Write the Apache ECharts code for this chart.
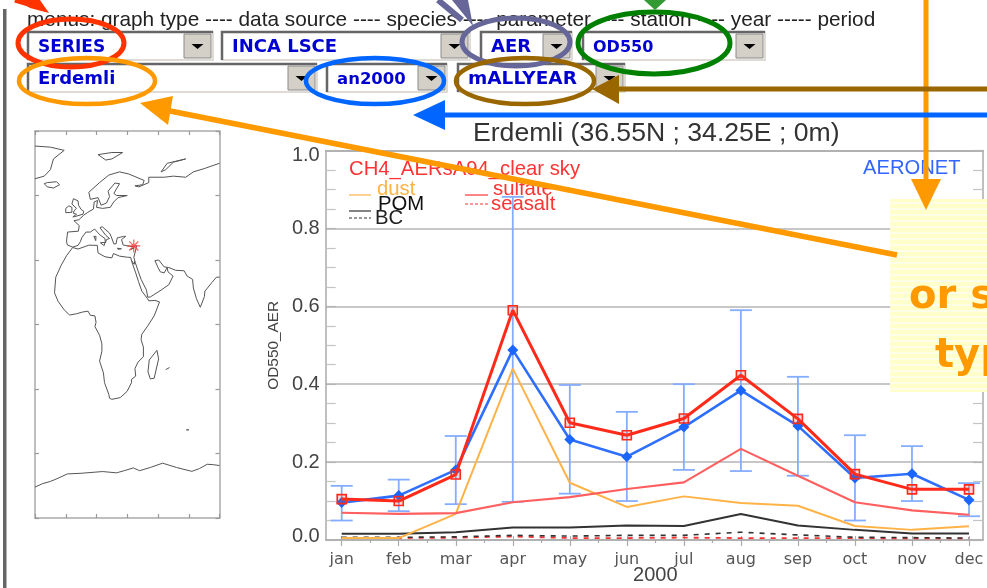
<!DOCTYPE html>
<html>
<head>
<meta charset="utf-8">
<title>Erdemli OD550</title>
<style>
  html, body { margin: 0; padding: 0; background: #fff; }
  #main { width: 987px; height: 588px; filter: blur(0.45px); }
</style>
<script src="https://cdn.jsdelivr.net/npm/echarts@6/dist/echarts.min.js"></script>
</head>
<body>
<div id="main"></div>
<script>
// monthly values
var months = ['jan', 'feb', 'mar', 'apr', 'may', 'jun', 'jul', 'aug', 'sep', 'oct', 'nov', 'dec']
var yTicks = ['0.0', '0.2', '0.4', '0.6', '0.8', '1.0']

var model = [0.105, 0.100, 0.168, 0.590, 0.301, 0.269, 0.312, 0.423, 0.311, 0.169, 0.130, 0.130]
var aeronet = [0.096, 0.114, 0.180, 0.488, 0.258, 0.214, 0.290, 0.384, 0.293, 0.159, 0.170, 0.103]
var errLow = [0.050, 0.074, 0.092, 0.098, 0.119, 0.100, 0.180, 0.177, 0.165, 0.050, 0.100, 0.061]
var errHigh = [0.139, 0.155, 0.267, 0.881, 0.398, 0.329, 0.400, 0.590, 0.419, 0.269, 0.241, 0.146]
var sulfate = [0.070, 0.067, 0.069, 0.097, 0.110, 0.131, 0.148, 0.234, 0.165, 0.097, 0.076, 0.065]
var dust = [0.005, 0.005, 0.067, 0.440, 0.147, 0.085, 0.112, 0.095, 0.088, 0.036, 0.026, 0.035]
var pom = [0.016, 0.016, 0.020, 0.032, 0.032, 0.037, 0.036, 0.067, 0.037, 0.026, 0.017, 0.017]
var bc = [0.007, 0.007, 0.008, 0.012, 0.010, 0.012, 0.012, 0.020, 0.013, 0.007, 0.006, 0.005]
var seasalt = [0.005, 0.005, 0.006, 0.009, 0.005, 0.005, 0.006, 0.005, 0.005, 0.005, 0.004, 0.004]

// coastlines, [lon, lat]
var africa = [[-5.5,35.8],[-9.5,32],[-13,27.5],[-16.5,22],[-17.3,14.7],[-15,10.8],[-11,6.8],[-7.5,4.4],[-3,5],[1,5.8],[4.5,6.2],[6,4.3],[9,4],[9.7,1],[9,-1],[12,-5],[13.5,-9],[13.5,-12.5],[12,-17],[14.5,-22.5],[15.2,-27],[18,-32.5],[18.5,-34.3],[20,-34.8],[25.5,-34],[30,-31],[32.8,-27],[32.8,-25.5],[35.5,-24],[35,-20.5],[37,-17.5],[40.5,-15],[40.5,-10.5],[39,-7],[39.5,-4.5],[43,-1],[47.5,4],[51,10.5],[48,11.2],[44,11],[43.2,12],[39.5,15.5],[37.3,20],[35.5,24],[33.8,27.5],[32.6,30],[32.3,31.2],[30,31.3],[25,31.8],[21,33],[20,31],[15.5,31.5],[11,33.3],[10.5,36.8],[5,36.9],[-2,35.1],[-5.5,35.8]]
var eurasia = [[32.6,30],[34.5,28],[34.9,29.5],[34.3,31.3],[35.8,35.5],[36,36.8],[34.25,36.2],[30.5,36.5],[27.3,37],[26.3,39.5],[29,41],[27.5,41],[26,40.7],[23.5,40.3],[22.7,37.5],[21.3,37.5],[19.5,41],[18.5,42.5],[13.7,45.5],[12.3,45],[16,41.5],[18.5,40],[16.5,39.5],[15.8,38],[15.5,40],[12.5,41.5],[10.5,43],[8.8,44.4],[6,43],[3.2,43],[0.5,40.5],[-0.5,38.5],[-2,36.8],[-5.5,36],[-9,37],[-9.5,38.8],[-8.8,43],[-1.8,43.4],[-1.2,46],[-4.7,48.3],[-1.5,48.7],[1.6,50.8],[4,52],[8,53.7],[8.5,57],[10.7,57.7],[10,54.5],[14,54],[19,54.5],[21.2,57],[24,59],[30,60],[23,60],[21.3,61],[25,65.5],[22,65.8],[17.5,62],[18.5,59.5],[16.5,56.5],[13,55.5],[11,59],[6,58.2],[5,61.5],[12,66],[18,69.5],[25,71],[31,70],[41,67],[40,65],[35,64.5],[37.5,64],[44,66],[44,68.5],[54,68.5],[60,69],[68,68.5],[73,71],[80,72.5],[90,75]]
var arabiaIndia = [[34.9,29.5],[37,25],[39,21],[42.5,16],[43.3,12.7],[45,12.8],[52,16],[57,18.5],[59.8,22.5],[56.5,24.5],[56,26.5],[54,24],[51.5,24.5],[50,26.5],[48,29.7],[50.5,30],[54,26.8],[57,26.5],[61.5,25.2],[67,25],[69,22.5],[72.5,21],[73,17],[75,12],[77.5,8],[80.2,13],[80.5,15.5],[85,19.5],[88,22],[90,22]]
var greenland = [[-30,83],[-20,82.5],[-11,81],[-18,77],[-20,72],[-24,69],[-30,67.8]]
var iceland = [[-24,65.5],[-22,64],[-18,63.5],[-14,65],[-16,66.4],[-22,66],[-24,65.5]]
var britain = [[-5,50],[1.2,51.3],[1.7,52.7],[0,53.5],[-1.7,55.5],[-2,57.5],[-5,58.5],[-6,56],[-3,54],[-4.7,52.8],[-5,51.7],[-3,51.3],[-5.5,50]]
var ireland = [[-6,52.2],[-6,54.5],[-8,55.2],[-10,54],[-10,52],[-6,52.2]]
var svalbard = [[11,79],[20,80],[27,80],[20,77],[16,76.5],[11,79]]
var novayaZemlya = [[52,71],[56,75],[68,77],[60,75.5],[55,72],[52,71]]
var sardinia = [[8.3,41],[9.7,41],[9.5,39],[8.5,39],[8.3,41]]
var sicily = [[12.5,38],[15.5,38.2],[15,36.7],[12.5,38]]
var crete = [[23.6,35.5],[26.2,35.2],[24,35],[23.6,35.5]]
var cyprus = [[32.3,35],[34.5,35.6],[33.5,34.7],[32.3,35]]
var madagascar = [[49.3,-12],[50.4,-16],[47.5,-25],[45,-25.3],[43.5,-22],[44.3,-16.5],[49.3,-12]]
var reunion = [[55,-21],[57.5,-20]]
var kerguelen = [[68.5,-49],[70,-49],[69.5,-48.5],[68.5,-49]]
var antarctica = [[-30,-75.6],[-25,-74],[-20,-73],[-15,-71.5],[-9,-69.5],[0,-69.2],[14,-68.4],[23,-69],[28,-68],[34,-66.7],[38,-68],[45,-66.5],[53,-64.5],[62,-66.5],[72,-68.3],[77,-67],[82,-65],[86,-65.2],[90,-65.6]]
var station = [[34.25, 36.55]]
var coasts = [africa, eurasia, arabiaIndia, greenland, iceland, britain, ireland, svalbard, novayaZemlya, sardinia, sicily, crete, cyprus, madagascar, reunion, kerguelen, antarctica]

var plotBox = { left: 325.7, top: 150.5, width: 657.3, height: 389.5 }
var dataBox = { left: 341.7, top: 150.5, width: 627.3, height: 389.5 }
var mapBox = { left: 35, top: 131, width: 184.5, height: 387 }

var gridGray = '#b4b4b4'
var frameGray = '#aaaaaa'
var inkGray = '#444444'
var orange = '#ff9900'
var blueArrow = '#0066ff'
var brown = '#996600'

// drop down menus of the web page shown above the plot
var menus = [
  { label: 'SERIES', x: 28, y: 32, w: 185, size: 17 },
  { label: 'INCA LSCE', x: 222, y: 32, w: 248, size: 18 },
  { label: 'AER', x: 481, y: 32, w: 91, size: 18 },
  { label: 'OD550', x: 583, y: 32, w: 182, size: 16 },
  { label: 'Erdemli', x: 28, y: 64, w: 289, size: 18 },
  { label: 'an2000', x: 327, y: 64, w: 120, size: 16.5 },
  { label: 'mALLYEAR', x: 458, y: 64, w: 167, size: 18.5 }
]
var rings = [
  { cx: 71, cy: 43, rx: 53, ry: 24, color: '#ff3300', w: 5 },
  { cx: 87, cy: 81, rx: 68, ry: 23, color: orange, w: 4.5 },
  { cx: 375, cy: 81, rx: 69, ry: 23, color: blueArrow, w: 4.5 },
  { cx: 516, cy: 42, rx: 54, ry: 24, color: '#666699', w: 5 },
  { cx: 654, cy: 43, rx: 76, ry: 31, color: '#008000', w: 5 },
  { cx: 525, cy: 81, rx: 69, ry: 23, color: brown, w: 4.5 }
]

function label(text, x, y, color, font) {
  return { type: 'text', z: 50, style: { text: text, x: x, y: y, fill: color, font: font, textVerticalAlign: 'middle' } }
}
function seg(x1, y1, x2, y2, color, w, dash, z) {
  return { type: 'line', z: z || 50, shape: { x1: x1, y1: y1, x2: x2, y2: y2 }, style: { stroke: color, lineWidth: w, lineDash: dash || null } }
}
function tri(points, color) {
  return { type: 'polygon', z: 85, shape: { points: points }, style: { fill: color } }
}

var graphics = []

// left edge of the page
graphics.push({ type: 'rect', z: 50, shape: { x: 3, y: 9, width: 3.5, height: 579 }, style: { fill: '#666666' } })

graphics.push(label('menus: graph type ---- data source ---- species ---- parameter ---- station ---- year ----- period', 27, 20.5, '#222222', '20.8px "Liberation Sans"'))

menus.forEach(function (m) {
  var h = 28
  graphics.push({ type: 'rect', z: 50, shape: { x: m.x, y: m.y, width: m.w, height: h }, style: { fill: '#fff', stroke: '#d4d0c8', lineWidth: 1.5 } })
  graphics.push({ type: 'polyline', z: 51, shape: { points: [[m.x, m.y + h], [m.x, m.y], [m.x + m.w, m.y]] }, style: { fill: null, stroke: '#666666', lineWidth: 2.5 } })
  graphics.push({ type: 'rect', z: 51, shape: { x: m.x + m.w - 29, y: m.y + 2, width: 27, height: h - 4 }, style: { fill: '#d4d0c8', stroke: '#8a8a8a', lineWidth: 1 } })
  var cx = m.x + m.w - 15.5, cy = m.y + 12
  graphics.push({ type: 'polygon', z: 52, shape: { points: [[cx - 6, cy], [cx + 6, cy], [cx, cy + 5]] }, style: { fill: '#000' } })
  graphics.push(label(m.label, m.x + 10, m.y + 15.5, '#0000d0', 'bold ' + m.size + 'px "DejaVu Sans"'))
})

graphics.push(label('Erdemli (36.55N ; 34.25E ; 0m)', 473, 134, '#333333', '26.6px "Liberation Sans"'))

// text and key inside the plot
graphics.push(label('CH4_AERsA94_clear sky', 349, 169, '#ff3333', '20.3px "Liberation Sans"'))
graphics.push(label('AERONET', 863, 168, '#3366ff', '20.2px "Liberation Sans"'))
graphics.push(label('dust', 377, 189, '#ffb347', '20.3px "Liberation Sans"'))
graphics.push(label('sulfate', 493, 189, '#ff3333', '20.3px "Liberation Sans"'))
graphics.push(label('POM', 378, 204, '#111111', '20.3px "Liberation Sans"'))
graphics.push(label('seasalt', 491, 204.5, '#ff3333', '20.3px "Liberation Sans"'))
graphics.push(label('BC', 375, 218.5, '#222222', '20.3px "Liberation Sans"'))
graphics.push(seg(349, 195, 371, 195, '#ffb347', 1.2))
graphics.push(seg(465, 195, 488, 195, '#ff3333', 1.2))
graphics.push(seg(349, 211, 371, 211, '#333333', 1.2))
graphics.push(seg(349, 218, 371, 218, '#333333', 1.2, [3, 2]))
graphics.push(seg(465, 204, 488, 204, '#ff3333', 1.2, [3, 2]))

// yellow note, cut by the edge of the picture
graphics.push({ type: 'rect', z: 70, shape: { x: 890, y: 199, width: 97, height: 193 }, style: { fill: '#ffffcc' } })
for (var sy = 202; sy < 392; sy += 6) {
  graphics.push({ type: 'rect', z: 71, shape: { x: 890, y: sy, width: 97, height: 2 }, style: { fill: '#ffffe8' } })
}
graphics.push({ type: 'text', z: 72, style: { text: 'or s', x: 909, y: 298, fill: orange, font: 'bold 40px "DejaVu Sans"', textVerticalAlign: 'middle' } })
graphics.push({ type: 'text', z: 72, style: { text: 'typ', x: 935, y: 357, fill: orange, font: 'bold 40px "DejaVu Sans"', textVerticalAlign: 'middle' } })

rings.forEach(function (r) {
  graphics.push({ type: 'ellipse', z: 80, shape: { cx: r.cx, cy: r.cy, rx: r.rx, ry: r.ry }, style: { fill: null, stroke: r.color, lineWidth: r.w } })
})

// call-out arrows
graphics.push(seg(926, 0, 926, 182, orange, 5, null, 85))
graphics.push(tri([[911, 179], [941, 179], [926, 210]], orange))
graphics.push(seg(987, 89, 615, 89, brown, 5, null, 85))
graphics.push(tri([[592, 89], [619, 75], [619, 104]], brown))
graphics.push(seg(987, 115, 440, 115, blueArrow, 5, null, 85))
graphics.push(tri([[413, 115], [445, 100], [445, 130]], blueArrow))
graphics.push(seg(897, 255, 160, 109, orange, 5.5, null, 85))
graphics.push(tri([[140, 103], [173, 96], [168, 125]], orange))
graphics.push(seg(15, 0, 32, 5, '#ff3300', 5, null, 85))
graphics.push(tri([[17, 0], [40, 0], [49, 13], [30, 8]], '#ff3300'))
graphics.push(seg(438, 0, 462, 20, '#666699', 6, null, 85))
graphics.push(tri([[473, 26], [452, 0], [468, 0]], '#666699'))
graphics.push(tri([[644, 0], [666, 0], [655, 10]], '#339933'))

var frameLine = { show: true, onZero: false, lineStyle: { color: frameGray, width: 1.5 } }
var mapTick = { show: true, inside: true, length: 4, lineStyle: { color: '#999999', width: 1.2 } }
var plotTick = { show: true, inside: true, length: 10, lineStyle: { color: gridGray, width: 1.2 } }
var plotMinor = { show: true, splitNumber: 4, length: 10, lineStyle: { color: '#c4c4c4', width: 1.2 } }

var seriesList = [
  {
    name: 'AERONET range',
    type: 'custom',
    xAxisIndex: 2,
    yAxisIndex: 2,
    z: 2,
    clip: false,
    data: months.map(function (m, i) { return [i, errLow[i], errHigh[i]] }),
    encode: { x: 0, y: [1, 2] },
    renderItem: function (params, api) {
      var i = api.value(0)
      var lo = api.coord([i, api.value(1)])
      var hi = api.coord([i, api.value(2)])
      var cap = 11
      var st = { stroke: '#85adff', lineWidth: 1.8, fill: null }
      return {
        type: 'group',
        children: [
          { type: 'line', shape: { x1: lo[0], y1: lo[1], x2: hi[0], y2: hi[1] }, style: st },
          { type: 'line', shape: { x1: lo[0] - cap, y1: lo[1], x2: lo[0] + cap, y2: lo[1] }, style: st },
          { type: 'line', shape: { x1: hi[0] - cap, y1: hi[1], x2: hi[0] + cap, y2: hi[1] }, style: st }
        ]
      }
    }
  },
  { name: 'seasalt', type: 'line', xAxisIndex: 2, yAxisIndex: 2, z: 3, data: seasalt, symbol: 'none', lineStyle: { color: '#ff3333', width: 1.8, type: [5, 6] } },
  { name: 'BC', type: 'line', xAxisIndex: 2, yAxisIndex: 2, z: 3, data: bc, symbol: 'none', lineStyle: { color: '#333333', width: 1.6, type: [5, 6] } },
  { name: 'POM', type: 'line', xAxisIndex: 2, yAxisIndex: 2, z: 3, data: pom, symbol: 'none', lineStyle: { color: '#333333', width: 2 } },
  { name: 'dust', type: 'line', xAxisIndex: 2, yAxisIndex: 2, z: 3, data: dust, symbol: 'none', lineStyle: { color: '#ffb347', width: 2 } },
  { name: 'sulfate', type: 'line', xAxisIndex: 2, yAxisIndex: 2, z: 3, data: sulfate, symbol: 'none', lineStyle: { color: '#ff5f5f', width: 2.1 } },
  { name: 'AERONET', type: 'line', xAxisIndex: 2, yAxisIndex: 2, z: 4, data: aeronet, symbol: 'diamond', symbolSize: 11, itemStyle: { color: '#1a66ff' }, lineStyle: { color: '#2e6fff', width: 2.6 } },
  { name: 'CH4_AERsA94', type: 'line', xAxisIndex: 2, yAxisIndex: 2, z: 5, data: model, symbol: 'rect', symbolSize: 9, itemStyle: { color: 'rgba(255,60,40,0.2)', borderColor: '#ff2a1a', borderWidth: 1.6 }, lineStyle: { color: '#ff2a1a', width: 3 } }
]

coasts.forEach(function (c) {
  seriesList.push({ type: 'line', xAxisIndex: 4, yAxisIndex: 3, data: c, symbol: 'none', z: 2, lineStyle: { color: '#555555', width: 1 } })
})
seriesList.push({
  name: 'Erdemli',
  type: 'scatter',
  xAxisIndex: 4,
  yAxisIndex: 3,
  z: 4,
  data: station,
  symbol: 'path://M0 -10 L0 10 M-10 0 L10 0 M-7 -7 L7 7 M-7 7 L7 -7',
  symbolSize: 13,
  itemStyle: { color: 'none', borderColor: '#ff3333', borderWidth: 1.2 }
})

var option = {
  animation: false,
  backgroundColor: '#fff',
  graphic: graphics,
  grid: [
    { left: plotBox.left, top: plotBox.top, width: plotBox.width, height: plotBox.height, outerBoundsMode: 'none' },
    { left: dataBox.left, top: dataBox.top, width: dataBox.width, height: dataBox.height, outerBoundsMode: 'none' },
    { left: mapBox.left, top: mapBox.top, width: mapBox.width, height: mapBox.height, outerBoundsMode: 'none' }
  ],
  xAxis: [
    // plot frame
    { gridIndex: 0, type: 'value', min: 0, max: 1, position: 'bottom', axisLine: frameLine, axisTick: { show: false }, axisLabel: { show: false }, splitLine: { show: false } },
    { gridIndex: 0, type: 'value', min: 0, max: 1, position: 'top', axisLine: frameLine, axisTick: { show: false }, axisLabel: { show: false }, splitLine: { show: false } },
    // months
    {
      gridIndex: 1,
      type: 'category',
      data: months,
      boundaryGap: false,
      position: 'bottom',
      name: '2000',
      nameLocation: 'middle',
      nameGap: 35,
      nameMoveOverlap: false,
      nameTextStyle: { color: inkGray, fontSize: 20, fontFamily: 'Liberation Sans', verticalAlign: 'middle' },
      axisLine: { show: false, onZero: false },
      axisTick: { show: true, inside: true, length: 4, lineStyle: { color: frameGray } },
      axisLabel: { color: '#555555', fontSize: 16, fontFamily: 'DejaVu Sans', margin: 12, interval: 0, hideOverlap: false }
    },
    {
      gridIndex: 1,
      type: 'value',
      min: 0,
      max: 11,
      interval: 1,
      position: 'top',
      axisLine: { show: false },
      axisTick: { show: true, inside: true, length: 6, lineStyle: { color: frameGray, width: 1.2 } },
      minorTick: { show: true, splitNumber: 2, length: 3, lineStyle: { color: frameGray, width: 1.2 } },
      axisLabel: { show: false },
      splitLine: { show: false }
    },
    // map
    { gridIndex: 2, type: 'value', min: -30, max: 90, interval: 20, position: 'bottom', axisLine: frameLine, axisTick: mapTick, axisLabel: { show: false }, splitLine: { show: false } },
    { gridIndex: 2, type: 'value', min: -30, max: 90, interval: 20, position: 'top', axisLine: frameLine, axisTick: mapTick, axisLabel: { show: false }, splitLine: { show: false } }
  ],
  yAxis: [
    {
      gridIndex: 0,
      type: 'value',
      min: 0,
      max: 1,
      interval: 0.2,
      position: 'left',
      name: 'OD550_AER',
      nameLocation: 'middle',
      nameRotate: 90,
      nameGap: 44,
      nameTextStyle: { color: inkGray, fontSize: 15.4, fontFamily: 'Liberation Sans' },
      axisLine: frameLine,
      axisTick: plotTick,
      minorTick: plotMinor,
      axisLabel: {
        color: inkGray,
        fontSize: 20,
        fontFamily: 'Liberation Sans',
        margin: 6,
        formatter: function (v) {
          var t = yTicks[Math.round(v * 5)]
          if (v === 1) return '{hi|' + t + '}'
          if (v === 0) return '{lo|' + t + '}'
          return t
        },
        rich: {
          hi: { color: inkGray, fontSize: 20, fontFamily: 'Liberation Sans', padding: [9, 0, 0, 0] },
          lo: { color: inkGray, fontSize: 20, fontFamily: 'Liberation Sans', padding: [0, 0, 8, 0] }
        }
      },
      splitLine: { show: true, lineStyle: { color: gridGray, width: 1.5 } }
    },
    {
      gridIndex: 0,
      type: 'value',
      min: 0,
      max: 1,
      interval: 0.2,
      position: 'right',
      axisLine: frameLine,
      axisTick: plotTick,
      minorTick: plotMinor,
      axisLabel: { show: false },
      splitLine: { show: false }
    },
    { gridIndex: 1, type: 'value', min: 0, max: 1, show: false },
    { gridIndex: 2, type: 'value', min: -90, max: 90, interval: 30, position: 'left', axisLine: frameLine, axisTick: mapTick, axisLabel: { show: false }, splitLine: { show: false } },
    { gridIndex: 2, type: 'value', min: -90, max: 90, interval: 30, position: 'right', axisLine: frameLine, axisTick: mapTick, axisLabel: { show: false }, splitLine: { show: false } }
  ],
  series: seriesList
}

var myChart = echarts.init(document.getElementById('main'))
myChart.setOption(option)
</script>
</body>
</html>
